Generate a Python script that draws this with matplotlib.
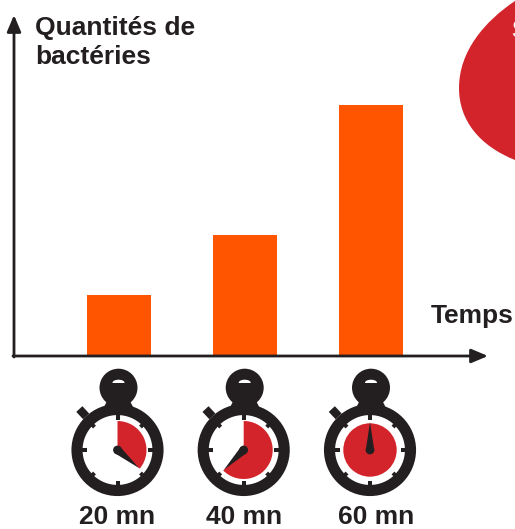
#!/usr/bin/env python3
# -*- coding: utf-8 -*-
import numpy as np
import matplotlib.pyplot as plt
from matplotlib.patches import Circle, Ellipse, PathPatch, Polygon, Rectangle, Wedge
from matplotlib.path import Path

# ===================== data =====================
labels = ['20 mn', '40 mn', '60 mn']
quantities = [61, 121, 251]          # bar heights
hand_angles = [130, 225, 360]        # clockwise from 12 o'clock

BLACK = '#231F20'
RED = '#D4242B'
ORANGE = '#FF5500'
FONT = 'Liberation Sans'
FS = 19

plt.rcParams['font.family'] = FONT

# one data unit = one pixel, y=0 on the time axis
fig = plt.figure(figsize=(5.15, 5.29), dpi=100)
ax = fig.add_axes([0, 0, 1, 1])
ax.set_xlim(0, 515)
ax.set_ylim(-173, 356)
ax.axis('off')

bar_x = [119, 245, 371]
ax.bar(bar_x, quantities, width=64, color=ORANGE, zorder=2)

# axes arrows
ax.annotate('', xy=(488, 0), xytext=(13, 0), zorder=3,
            arrowprops=dict(arrowstyle='-|>,head_length=1.0,head_width=0.42', color=BLACK,
                            lw=2, shrinkA=0, shrinkB=0))
ax.annotate('', xy=(14, 341), xytext=(14, -1), zorder=3,
            arrowprops=dict(arrowstyle='-|>,head_length=1.0,head_width=0.42', color=BLACK,
                            lw=2, shrinkA=0, shrinkB=0))

ax.text(35, 328, 'Quantités de', fontsize=FS, fontweight='bold', color=BLACK, va='center', ha='left')
ax.text(35, 299, 'bactéries', fontsize=FS, fontweight='bold', color=BLACK, va='center', ha='left')
ax.text(514, 40, 'Temps', fontsize=FS, fontweight='bold', color=BLACK, va='center', ha='right')


def stopwatch(cx, cy, angle):
    # head + neck
    ax.add_patch(Circle((cx + 1, cy + 62.3), 19, color=BLACK, lw=0))
    ax.add_patch(Polygon([(cx - 14, cy + 42), (cx + 16, cy + 42), (cx + 9, cy + 56), (cx - 7, cy + 56)], color=BLACK, lw=0))
    ax.add_patch(Ellipse((cx + 1, cy + 67.3), 12, 6, color='white', lw=0))
    ax.add_patch(Rectangle((cx - 7, cy + 63), 16, 4.3, color=BLACK, lw=0))
    # side button
    d = np.array([-np.sin(np.radians(43)), np.cos(np.radians(43))])
    p0, p1 = d * 46, d * 56
    ax.plot([cx + p0[0], cx + p1[0]], [cy + p0[1], cy + p1[1]], color=BLACK, lw=6, solid_capstyle='butt')
    # ring and face
    ax.add_patch(Circle((cx, cy), 40.5, fc='white', ec=BLACK, lw=8))
    # red fill
    if angle >= 360:
        ax.add_patch(Circle((cx, cy), 26.7, color=RED, lw=0))
    else:
        ax.add_patch(Wedge((cx, cy), 29, 90 - angle, 90, color=RED, lw=0))
    # ticks
    for a in range(0, 360, 45):
        s, c = np.sin(np.radians(a)), np.cos(np.radians(a))
        r = 30.5 if a % 90 == 0 else 32.5
        ax.plot([cx + r * s, cx + 37 * s], [cy + r * c, cy + 37 * c],
                color=BLACK, lw=2.9, solid_capstyle='butt')
    # hand
    s, c = np.sin(np.radians(angle)), np.cos(np.radians(angle))
    tip = (cx + 28 * s, cy + 28 * c)
    ax.add_patch(Polygon([tip, (cx + 4.2 * c, cy - 4.2 * s), (cx - 4.2 * c, cy + 4.2 * s)], color=BLACK, lw=0, zorder=4))
    ax.add_patch(Circle((cx, cy), 4.4, color=BLACK, lw=0, zorder=4))


watch_x = [117.5, 243.7, 370]
label_x = [117.5, 244, 376]
for wx, lx, lab, ang in zip(watch_x, label_x, labels, hand_angles):
    stopwatch(wx, -94, ang)
    ax.text(lx, -168, lab, fontsize=FS, fontweight='bold', color=BLACK, va='baseline', ha='center')

# red bubble cut off by the right edge
verts = [(515, 355), (485, 335), (459, 305), (459, 268),
         (459, 235), (480, 210), (515, 196), (530, 196), (530, 355), (515, 355)]
codes = [Path.MOVETO, Path.CURVE4, Path.CURVE4, Path.CURVE4,
         Path.CURVE4, Path.CURVE4, Path.CURVE4, Path.LINETO, Path.LINETO, Path.CLOSEPOLY]
ax.add_patch(PathPatch(Path(verts, codes), fc=RED, ec='none', zorder=2))
ax.text(511, 325, 'S', fontsize=FS, fontweight='bold', color='white', va='center', ha='left', zorder=3, clip_on=True)

plt.savefig('out.png', dpi=100)
plt.close()
